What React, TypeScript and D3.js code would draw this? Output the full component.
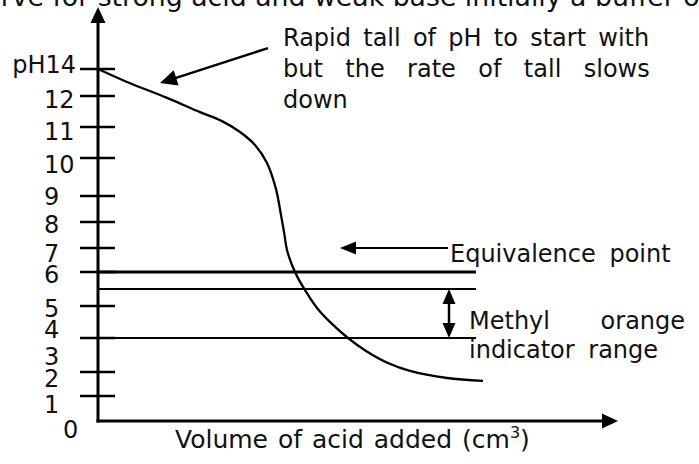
import React from "react";
import * as d3 from "d3";

// ---- data ----
const volume = [0, 2.9, 6.9, 10.2, 12.4, 14.2, 15.7, 16.9, 17.8, 18.3, 18.6, 18.9, 19.4, 20.0, 20.7, 21.9, 23.4, 25.0, 26.8, 29.0, 31.2, 34.9, 38.5];
const pH = [14, 13.04, 11.94, 11.48, 11.19, 10.84, 10.42, 9.87, 9.18, 8.27, 7.62, 6.92, 6.29, 5.82, 5.47, 4.94, 4.44, 4.0, 3.24, 2.53, 2.06, 1.75, 1.63];
const tickValues = [1, 2, 4, 5, 6, 7, 8, 9, 10, 11, 12, 14];
const labelValues = [0, 1, 2, 3, 4, 5, 6, 7, 8, 9, 10, 11, 12, 14];
const labelTexts = ["0", "1", "2", "3", "4", "5", "6", "7", "8", "9", "10", "11", "12", "pH14"];
const levelValues = [6, 5.5, 4];
const levelEndVolume = 37.8;
const indicatorVolume = 35.1;
const indicatorRange = [5.5, 4];
const equivalencePH = 7;
const equivalenceArrow = [35, 24.2]; // tail, tip (volume)
const rapidArrow = { tail: [17, 15.55], tip: [6.2, 12.96] };
const axisTopPH = 18.6;
const axisEndVolume = 52;

// ---- layout of the hand-drawn axis (uneven spacing of the pH marks) ----
const pHDomain = [0, 1, 2, 3, 4, 5, 6, 7, 8, 9, 10, 11, 12, 13, 14];
const pHRange = [421, 396, 372, 355, 338, 306, 272, 248, 222, 196, 158, 127, 96, 82.5, 69];
// baseline nudges of the hand-placed tick labels (same order as labelValues)
const labelNudge = [17, 17, 15, 10, 0, 11, 11, 14, 11, 9, 15, 13, 12, 4];

const FONT = "'DejaVu Sans', Verdana, sans-serif";

function head(tx: number, ty: number, fx: number, fy: number, len: number, hw: number) {
  const dx = tx - fx, dy = ty - fy;
  const d = Math.hypot(dx, dy);
  const ux = dx / d, uy = dy / d;
  const bx = tx - ux * len, by = ty - uy * len;
  const px = -uy, py = ux;
  return `${tx},${ty} ${bx + px * hw},${by + py * hw} ${bx - px * hw},${by - py * hw}`;
}

function Justified({ text, x, y, extra, size = 24 }: { text: string; x: number; y: number; extra: number; size?: number }) {
  const words = text.split(" ");
  return (
    <text x={x} y={y} fontSize={size} fill="#111">
      {words.map((w, i) => (
        <tspan key={i} dx={i === 0 ? 0 : extra}>{(i === 0 ? "" : " ") + w}</tspan>
      ))}
    </text>
  );
}

export default function App() {
  const x = d3.scaleLinear().domain([0, axisEndVolume]).range([98, 618]);
  const y = d3.scaleLinear().domain(pHDomain).range(pHRange);
  const yTop = y(axisTopPH);

  const pts: [number, number][] = volume.map((v, i) => [x(v), y(pH[i])]);
  const line = d3.line().curve(d3.curveCatmullRom.alpha(0.5));
  const curvePath = line(pts) || "";

  const x0 = x(0);
  const yBase = y(0);

  const rTail = [x(rapidArrow.tail[0]), y(rapidArrow.tail[1])];
  const rTip = [x(rapidArrow.tip[0]), y(rapidArrow.tip[1])];

  const eTail = [x(equivalenceArrow[0]), y(equivalencePH)];
  const eTip = [x(equivalenceArrow[1]), y(equivalencePH)];

  const ix = x(indicatorVolume);
  const iTop = y(indicatorRange[0]);
  const iBot = y(indicatorRange[1]);

  return (
    <svg width={699} height={464} style={{ position: "absolute", left: 0, top: 0, background: "#fff" }} fontFamily={FONT}>
      <rect width={699} height={464} fill="#fff" />
      {/* cropped heading */}
      <text x={-31} y={6} fontSize={26} fill="#111" textLength={740} lengthAdjust="spacingAndGlyphs">curve for strong acid and weak base initially a buffer of</text>

      {/* y axis */}
      <line x1={x0} y1={yBase + 1.5} x2={x0} y2={yTop + 14} stroke="#000" strokeWidth={3} />
      <polygon points={head(x0, yTop, x0, yBase, 16, 7.5)} fill="#000" />
      {/* x axis */}
      <line x1={x0 - 1.5} y1={yBase} x2={x(axisEndVolume) - 14} y2={yBase} stroke="#000" strokeWidth={3} />
      <polygon points={head(x(axisEndVolume), yBase, x0, yBase, 16, 7.5)} fill="#000" />

      {/* ticks */}
      {tickValues.map((v) => (
        <line key={v} x1={80} x2={115} y1={y(v)} y2={y(v)} stroke="#000" strokeWidth={2.5} />
      ))}
      {/* tick labels */}
      {labelValues.map((v, i) => {
        const t = labelTexts[i];
        const ly = y(v) + labelNudge[i];
        if (v === 14) return <text key={v} x={76} y={ly} fontSize={24} textAnchor="end" fill="#111">{t}</text>;
        if (v === 0) return <text key={v} x={63} y={ly} fontSize={24} fill="#111">{t}</text>;
        return <text key={v} x={44} y={ly} fontSize={24} fill="#111">{t}</text>;
      })}

      {/* reference levels */}
      {levelValues.map((v, i) => (
        <line key={v} x1={x0} x2={x(levelEndVolume)} y1={y(v)} y2={y(v)} stroke="#000" strokeWidth={i === 0 ? 3 : 2.2} />
      ))}

      {/* titration curve */}
      <path d={curvePath} fill="none" stroke="#000" strokeWidth={2.3} />

      {/* rapid fall annotation */}
      <line x1={rTail[0]} y1={rTail[1]} x2={rTip[0] + (rTail[0] - rTip[0]) * 0.12} y2={rTip[1] + (rTail[1] - rTip[1]) * 0.12} stroke="#000" strokeWidth={2.5} />
      <polygon points={head(rTip[0], rTip[1], rTail[0], rTail[1], 17, 8)} fill="#000" />
      <Justified text="Rapid tall of pH to start with" x={283} y={46} extra={4.6} />
      <Justified text="but the rate of tall slows" x={283} y={77} extra={14.8} />
      <text x={283} y={108} fontSize={24} fill="#111">down</text>

      {/* equivalence point */}
      <line x1={eTail[0]} y1={eTail[1]} x2={eTip[0] + 12} y2={eTip[1]} stroke="#000" strokeWidth={2} />
      <polygon points={head(eTip[0], eTip[1], eTail[0], eTail[1], 16, 6.5)} fill="#000" />
      <Justified text="Equivalence point" x={450} y={262} extra={6} />

      {/* indicator range */}
      <line x1={ix} x2={ix} y1={iTop + 12} y2={iBot - 12} stroke="#000" strokeWidth={2.5} />
      <polygon points={head(ix, iTop, ix, iBot, 15, 6.5)} fill="#000" />
      <polygon points={head(ix, iBot, ix, iTop, 15, 6.5)} fill="#000" />
      <Justified text="Methyl orange" x={469} y={329} extra={43} />
      <Justified text="indicator range" x={469} y={358} extra={6} />

      {/* x axis title */}
      <text x={175} y={448} fontSize={25} fill="#111" wordSpacing={2}>
        Volume of acid added (cm<tspan fontSize={16} dy={-10}>3</tspan><tspan dy={10}>)</tspan>
      </text>
    </svg>
  );
}
